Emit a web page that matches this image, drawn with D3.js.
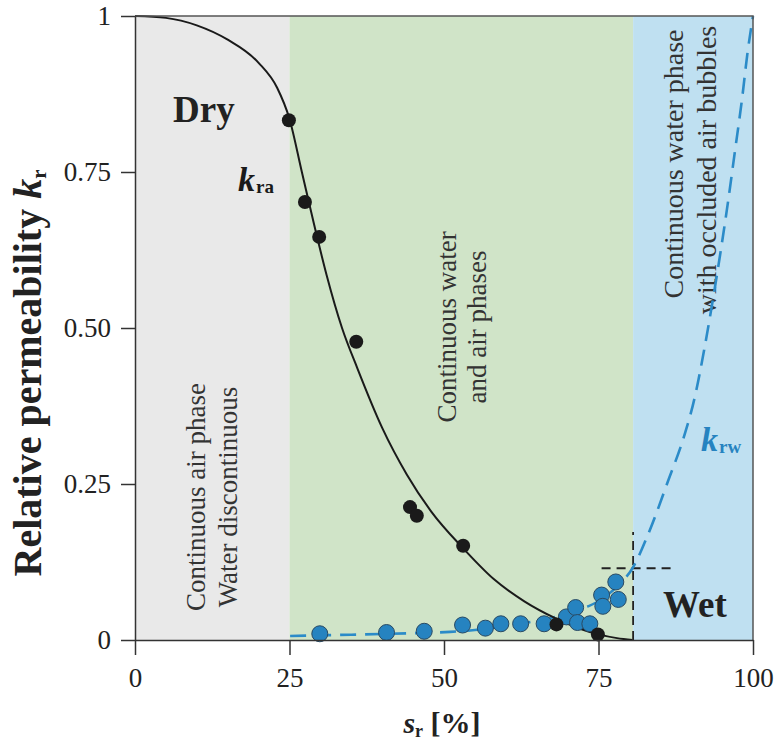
<!DOCTYPE html>
<html>
<head>
<meta charset="utf-8">
<script src="https://cdn.jsdelivr.net/npm/d3@7"></script>
<style>
  body { margin: 0; background: #fff; }
  svg { display: block; font-family: "Liberation Serif", "Times New Roman", serif; }
</style>
</head>
<body>
<svg id="chart" width="776" height="742"></svg>
<script>
// ---- data ----
var xTicks = [0, 25, 50, 75, 100];
var yTicks = [0, 0.25, 0.5, 0.75, 1];
var yTickLabels = ["0", "0.25", "0.50", "0.75", "1"];

// zones along s_r (%)
var zoneFrom = [0, 25, 80.6];
var zoneTo = [25, 80.6, 100];

// measured k_ra (black dots)
var airSr = [24.9, 27.5, 29.8, 35.8, 44.5, 45.6, 53.1, 68.2, 74.9];
var airKr = [0.833, 0.702, 0.646, 0.478, 0.213, 0.199, 0.151, 0.025, 0.009];

// measured k_rw (blue dots)
var waterSr = [29.9, 40.7, 46.8, 53.0, 56.7, 59.2, 62.4, 66.2, 69.8, 71.3, 71.6, 73.6, 75.5, 75.7, 77.8, 78.2];
var waterKr = [0.010, 0.012, 0.014, 0.024, 0.019, 0.026, 0.026, 0.026, 0.037, 0.052, 0.028, 0.026, 0.072, 0.054, 0.093, 0.065];

// fitted k_ra curve (solid)
var airCurveSr = [0, 5, 10, 15, 20, 23, 25, 27, 29, 31, 33.5, 36, 40, 44, 48, 53, 58, 63, 68, 72, 75, 78, 80.5];
var airCurveKr = [1.0, 0.997, 0.985, 0.962, 0.925, 0.885, 0.835, 0.75, 0.665, 0.585, 0.5, 0.435, 0.34, 0.265, 0.205, 0.148, 0.098, 0.062, 0.035, 0.018, 0.009, 0.003, 0];

// fitted k_rw curve (dashed)
var waterCurveSr = [25.1, 30, 35, 40, 45, 51, 55, 59.1, 63, 67.2, 70, 73.1, 75.5, 77.9, 80.5, 83.3, 86.3, 88.8, 90.6, 92.1, 93.5, 94.8, 96.0, 97.1, 98.2, 99.1, 100];
var waterCurveKr = [0.0064, 0.0075, 0.0085, 0.0096, 0.011, 0.013, 0.016, 0.021, 0.027, 0.035, 0.042, 0.053, 0.065, 0.085, 0.115, 0.176, 0.256, 0.325, 0.39, 0.465, 0.545, 0.625, 0.705, 0.785, 0.865, 0.94, 1.0];

// dashed guide at the wet limit
var guideSr = 80.6, guideKr = 0.115;
var guideH = [75.5, 87.4];   // horizontal extent (s_r)
var guideVTop = 0.173;       // vertical extent (k_r)

// ---- layout ----
var mLeft = 135, mRight = 753, mTop = 16, mBottom = 640;
var svg = d3.select("#chart");

var x = d3.scaleLinear().domain([0, 100]).range([mLeft, mRight]);
var y = d3.scaleLinear().domain([0, 1]).range([mBottom, mTop]);

var zoneColors = ["#e9e9e9", "#d0e4c8", "#bfe0f1"];

// background zones
for (var i = 0; i < zoneFrom.length; i++) {
    svg.append("rect")
        .attr("x", x(zoneFrom[i]))
        .attr("y", y(1))
        .attr("width", x(zoneTo[i]) - x(zoneFrom[i]))
        .attr("height", y(0) - y(1))
        .style("fill", zoneColors[i]);
}

// zone descriptions (rotated)
function vtext(cx, cy, str, size) {
    svg.append("text")
        .attr("transform", "translate(" + cx + "," + cy + ") rotate(-90)")
        .attr("text-anchor", "middle")
        .style("font-size", size + "px")
        .style("fill", "#333")
        .text(str);
}
vtext(205, 497, "Continuous air phase", 27);
vtext(237, 497, "Water discontinuous", 27);
vtext(456, 327, "Continuous water", 27);
vtext(486, 327, "and air phases", 27);
vtext(683, 164, "Continuous water phase", 28);
vtext(716, 170, "with occluded air bubbles", 28);

// dashed guide lines
svg.append("line")
    .attr("x1", x(guideSr)).attr("x2", x(guideSr))
    .attr("y1", y(0)).attr("y2", y(guideVTop))
    .style("stroke", "#222").style("stroke-width", 1.8)
    .style("stroke-dasharray", "9,6");
svg.append("line")
    .attr("x1", x(guideH[0])).attr("x2", x(guideH[1]))
    .attr("y1", y(guideKr)).attr("y2", y(guideKr))
    .style("stroke", "#222").style("stroke-width", 1.8)
    .style("stroke-dasharray", "9,6");

var line = d3.line()
    .x(function (d) { return x(d[0]); })
    .y(function (d) { return y(d[1]); })
    .curve(d3.curveMonotoneX);

// k_rw dashed curve
svg.append("path")
    .datum(d3.zip(waterCurveSr, waterCurveKr))
    .attr("d", line)
    .style("fill", "none")
    .style("stroke", "#2b8bc8")
    .style("stroke-width", 2.6)
    .style("stroke-dasharray", "16,9");

// k_ra solid curve
svg.append("path")
    .datum(d3.zip(airCurveSr, airCurveKr))
    .attr("d", line)
    .style("fill", "none")
    .style("stroke", "#1a1a1a")
    .style("stroke-width", 2);

// blue dots
svg.selectAll(".wdot")
    .data(d3.zip(waterSr, waterKr))
    .enter().append("circle")
    .attr("class", "wdot")
    .attr("cx", function (d) { return x(d[0]); })
    .attr("cy", function (d) { return y(d[1]); })
    .attr("r", 8)
    .style("fill", "#2683c0")
    .style("stroke", "#2a4a62")
    .style("stroke-width", 1);

// black dots
svg.selectAll(".adot")
    .data(d3.zip(airSr, airKr))
    .enter().append("circle")
    .attr("class", "adot")
    .attr("cx", function (d) { return x(d[0]); })
    .attr("cy", function (d) { return y(d[1]); })
    .attr("r", 7)
    .style("fill", "#1a1a1a");

// labels inside the plot
svg.append("text").attr("x", 173).attr("y", 122)
    .style("font-size", "37px").style("font-weight", "bold").style("fill", "#222")
    .text("Dry");
svg.append("text").attr("x", 663).attr("y", 617)
    .style("font-size", "37px").style("font-weight", "bold").style("fill", "#222")
    .text("Wet");

function kLabel(px, py, sub, color) {
    var t = svg.append("text").attr("x", px).attr("y", py)
        .style("font-weight", "bold").style("fill", color);
    t.append("tspan").style("font-size", "34px").style("font-style", "italic").text("k");
    t.append("tspan").style("font-size", "19px").attr("dx", 1).attr("dy", 2).text(sub);
}
kLabel(238, 191, "ra", "#1a1a1a");
kLabel(701, 451, "rw", "#2683c0");

// frame
svg.append("path")
    .attr("d", "M" + mLeft + "," + mTop + "H" + mRight + "V" + mBottom)
    .style("fill", "none").style("stroke", "#555").style("stroke-width", 1.5);

// axes
var xAxis = svg.append("g")
    .attr("transform", "translate(0," + mBottom + ")")
    .call(d3.axisBottom(x).tickValues(xTicks).tickSize(15).tickSizeOuter(0).tickPadding(13));
var yAxis = svg.append("g")
    .attr("transform", "translate(" + mLeft + ",0)")
    .call(d3.axisLeft(y).tickValues(yTicks).tickSize(14).tickSizeOuter(0).tickPadding(10)
        .tickFormat(function (d, i) { return yTickLabels[i]; }));

[xAxis, yAxis].forEach(function (g) {
    g.selectAll("path, line").style("stroke", "#333").style("stroke-width", 1.5);
    g.selectAll("text")
        .style("font-family", "'Liberation Serif', 'Times New Roman', serif")
        .style("font-size", "27px")
        .style("fill", "#222");
});

// axis titles
var xt = svg.append("text").attr("x", 442).attr("y", 733)
    .attr("text-anchor", "middle")
    .style("font-weight", "bold").style("font-size", "30px").style("fill", "#222");
xt.append("tspan").style("font-style", "italic").text("s");
xt.append("tspan").style("font-size", "18px").attr("dy", 4).text("r");
xt.append("tspan").attr("dy", -4).text(" [%]");

var yt = svg.append("text")
    .attr("transform", "translate(41,373) rotate(-90)")
    .attr("text-anchor", "middle")
    .style("font-weight", "bold").style("font-size", "40px").style("fill", "#222");
yt.append("tspan").text("Relative permeability ");
yt.append("tspan").style("font-style", "italic").text("k");
yt.append("tspan").style("font-size", "21px").attr("dy", 5).text("r");
</script>
</body>
</html>
